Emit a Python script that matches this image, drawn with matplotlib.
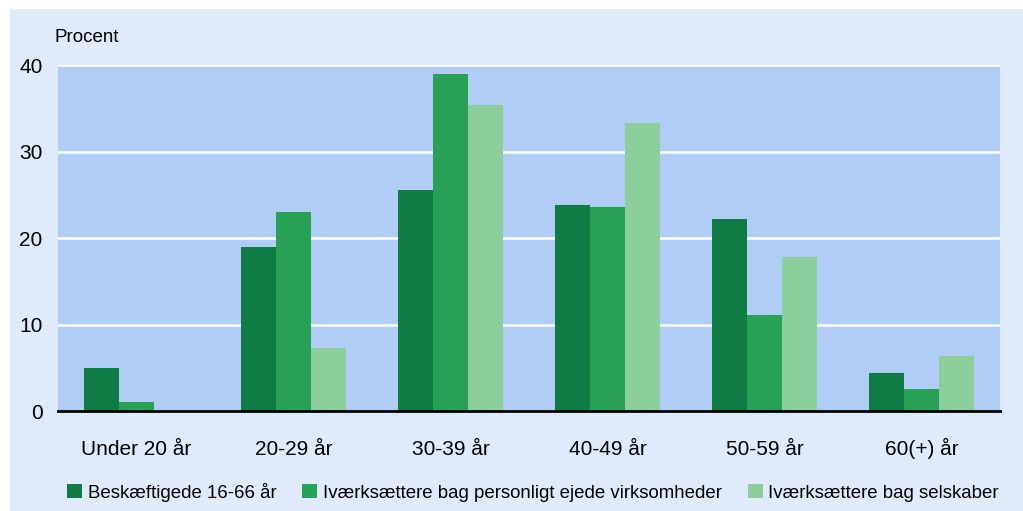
import numpy as np
import matplotlib.pyplot as plt
from matplotlib.patches import Rectangle

plt.rcParams['font.family'] = ['Liberation Sans', 'DejaVu Sans']

categories = ['Under 20 år', '20-29 år', '30-39 år', '40-49 år', '50-59 år', '60(+) år']
series_names = ['Beskæftigede 16-66 år',
                'Iværksættere bag personligt ejede virksomheder',
                'Iværksættere bag selskaber']
beskaeftigede = [5.0, 19.0, 25.5, 23.8, 22.2, 4.4]
personlige = [1.0, 23.0, 39.0, 23.6, 11.1, 2.5]
selskaber = [0.0, 7.3, 35.4, 33.3, 17.8, 6.4]
yticks = [0, 10, 20, 30, 40]

colors = ['#0f7b45', '#28a055', '#8dcf9c']
outer_bg = '#dfebfa'
plot_bg = '#b0cef5'

fig = plt.figure(figsize=(10.23, 5.11), dpi=100, facecolor='white')
fig.patches.append(Rectangle((10 / 1023, 0), 1 - 10 / 1023, 1 - 9 / 511,
                             transform=fig.transFigure, facecolor=outer_bg,
                             edgecolor='none', zorder=-10))

ax = fig.add_axes([58 / 1023, 100 / 511, 942 / 1023, 346 / 511])
ax.set_facecolor(plot_bg)

x = np.arange(len(categories))
w = 0.223
for i, (vals, c, name) in enumerate(zip([beskaeftigede, personlige, selskaber], colors, series_names)):
    ax.bar(x + (i - 1) * w, vals, width=w, color=c, label=name, zorder=3)

ax.set_xlim(-0.5, len(categories) - 0.5)
ax.set_ylim(0, 40)
ax.set_yticks(yticks)
ax.set_yticklabels([str(t) for t in yticks], fontsize=15)
ax.set_xticks(x)
ax.set_xticklabels(categories, fontsize=15, va='baseline')
ax.tick_params(length=0, pad=11, axis='y')
ax.tick_params(length=0, pad=32, axis='x')
for t in yticks[1:]:
    ax.axhline(t, color='white', lw=1.8, zorder=1)
for s in ['top', 'right', 'left']:
    ax.spines[s].set_visible(False)
ax.spines['bottom'].set_linewidth(2)
ax.spines['bottom'].set_color('black')
ax.spines['bottom'].set_zorder(5)

fig.text(55 / 1023, 1 - 38 / 511, 'Procent', fontsize=13.5, va='center', ha='left')

fig.legend(loc='center', bbox_to_anchor=(0.521, 1 - 492 / 511), ncol=3, frameon=False,
           fontsize=13.4, handlelength=0.8, handleheight=0.8, handletextpad=0.3,
           columnspacing=1.4)

fig.savefig('out.png', dpi=100, facecolor='white')
